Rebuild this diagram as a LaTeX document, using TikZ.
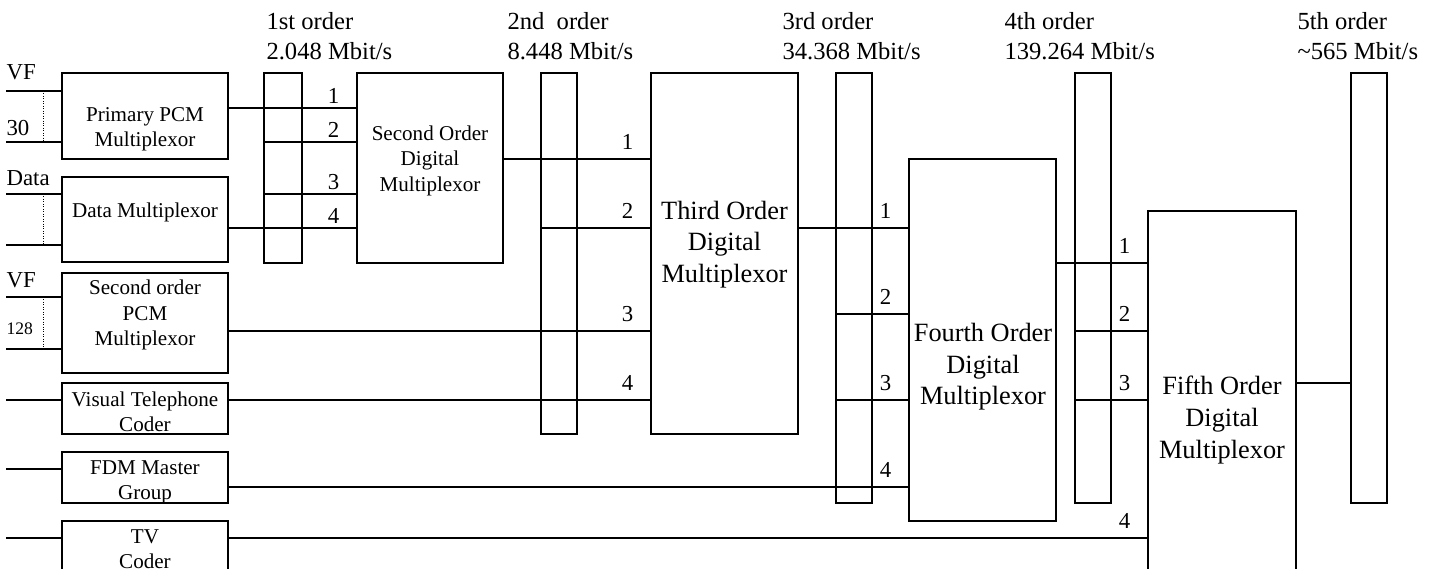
\documentclass[tikz,border=0pt]{standalone}
\usepackage{fontspec}
\setmainfont{Liberation Serif}
\usetikzlibrary{positioning, fit, calc}

\begin{document}
\begin{tikzpicture}[x=0.02cm, y=-0.02cm, line width=0.6pt,
  mux/.style={draw, inner sep=0pt},
  bar/.style={draw, inner sep=0pt},
  lbl/.style={align=center, inner sep=0pt, font=\fontsize{12}{14.4}\selectfont},
  big/.style={align=center, inner sep=0pt, font=\fontsize{15}{18}\selectfont},
  hdr/.style={align=left, anchor=west, inner sep=0pt, font=\fontsize{14}{16.8}\selectfont},
  inp/.style={anchor=west, inner sep=0pt, font=\fontsize{13}{15.6}\selectfont},
  num/.style={anchor=south, inner sep=0pt, xshift=-0.46cm, yshift=#1, font=\fontsize{13}{15.6}\selectfont},
  num/.default=5pt]
\useasboundingbox (0,0) rectangle (1435,568);
\clip (0,0) rectangle (1435,568);

% order headings
\node[hdr] (o1) at (266,36) {1st order\\2.048 Mbit/s};
\node[hdr] (o2) at (507,36) {2nd\ \ order\\8.448 Mbit/s};
\node[hdr] (o3) at (782,36) {3rd order\\34.368 Mbit/s};
\node[hdr] (o4) at (1004,36) {4th order\\139.264 Mbit/s};
\node[hdr] (o5) at (1297,36) {5th order\\\textasciitilde565 Mbit/s};

% tributary equipment
\node[mux, fit={(62,73) (228,159)}] (pcm1) {};
\node[mux, lbl, fit={(62,177) (228,262)}] (dmux) {Data Multiplexor};
\node[mux, fit={(62,273) (228,373)}] (pcm2) {};
\node[mux, fit={(62,383) (228,434)}] (vtc) {};
\node[mux, fit={(62,452) (228,503)}] (fdm) {};
\node[mux, fit={(62,521) (228,590)}] (tvc) {};
\node[lbl] (pcm1t) at (145,129) {Primary PCM\\Multiplexor};
\node[lbl] (pcm2t) at (145,315) {Second order\\PCM\\Multiplexor};
\node[lbl] (vtct) at (145,412) {Visual Telephone\\Coder};
\node[lbl] (fdmt) at (145,482) {FDM Master\\Group};
\node[lbl] (tvct) at (145,549) {TV\\Coder};

% digital multiplexors
\node[mux, lbl, fit={(357,73) (503,263)}] (mux2) {Second Order\\Digital\\Multiplexor};
\node[mux, big, fit={(651,73) (798,434)}] (mux3) {Third Order\\Digital\\Multiplexor};
\node[mux, fit={(909,159) (1056,521)}] (mux4) {};
\node[mux, fit={(1148,211) (1296,600)}] (mux5) {};
\node[big] (mux4t) at (983,367) {Fourth Order\\Digital\\Multiplexor};
\node[big] (mux5t) at (1222,420) {Fifth Order\\Digital\\Multiplexor};

% hierarchy bars
\node[bar, fit={(264,73) (302,263)}] (bar1) {};
\node[bar, fit={(541,73) (577,434)}] (bar2) {};
\node[bar, fit={(836,73) (872,503)}] (bar3) {};
\node[bar, fit={(1075,73) (1111,503)}] (bar4) {};
\node[bar, fit={(1351,73) (1387,503)}] (bar5) {};

% inputs
\coordinate (lft) at (6,0);
\coordinate (dot) at (43,0);
\foreach \yy/\dst in {91/pcm1, 142/pcm1, 194/dmux, 245/dmux, 297/pcm2, 349/pcm2, 400/vtc, 469/fdm, 538/tvc}
  \draw (lft |- 0,\yy) -- (\dst.west |- 0,\yy);
\foreach \ya/\yb in {91/142, 194/245, 297/349}
  \draw[densely dotted, line width=0.4pt] (dot |- 0,\ya) -- (dot |- 0,\yb);
\node[inp] (vf1) at (6,72) {VF};
\node[inp] (n30) at (6,128) {30};
\node[inp] (dat) at (6,178) {Data};
\node[inp] (vf2) at (6,280) {VF};
\node[inp, font=\fontsize{10}{12}\selectfont] (n128) at (6,329) {128};

% tributaries into each order
\foreach \yy/\src/\k in {108/pcm1.east/1, 142/bar1.west/2, 194/bar1.west/3, 228/dmux.east/4}
  \draw (\src |- 0,\yy) -- (mux2.west |- 0,\yy) node[num=2pt] (sa\k) {\k};
\foreach \yy/\src/\k in {159/mux2.east/1, 228/bar2.west/2, 331/pcm2.east/3, 400/vtc.east/4}
  \draw (\src |- 0,\yy) -- (mux3.west |- 0,\yy) node[num] (sb\k) {\k};
\foreach \yy/\src/\k in {228/mux3.east/1, 314/bar3.west/2, 400/bar3.west/3, 487/fdm.east/4}
  \draw (\src |- 0,\yy) -- (mux4.west |- 0,\yy) node[num] (sc\k) {\k};
\foreach \yy/\src/\k in {263/mux4.east/1, 331/bar4.west/2, 400/bar4.west/3, 538/tvc.east/4}
  \draw (\src |- 0,\yy) -- (mux5.west |- 0,\yy) node[num] (sd\k) {\k};
\draw (mux5.east |- 0,383) -- (bar5.west |- 0,383);
\end{tikzpicture}
\end{document}
